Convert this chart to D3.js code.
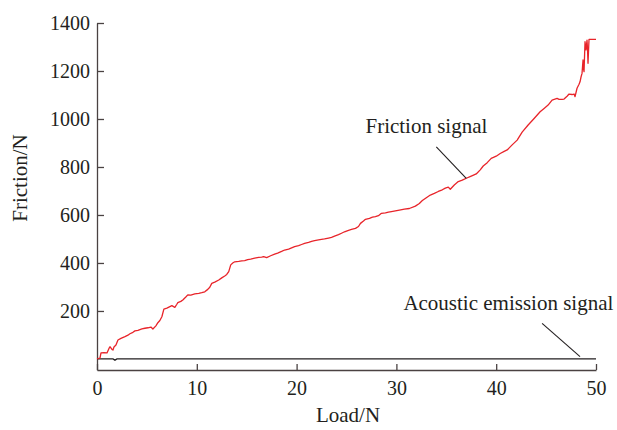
<!DOCTYPE html>
<html>
<head>
<meta charset="utf-8">
<script src="https://cdn.jsdelivr.net/npm/d3@7"></script>
<style>
  body { margin: 0; background: #fff; }
  svg text { font-family: "Liberation Serif", "Times New Roman", serif; fill: #231f20; }
  .axis path, .axis line { stroke: #4a4242; stroke-width: 1.3; }
  .axis text { font-size: 20px; font-family: "Liberation Serif", "Times New Roman", serif; }
</style>
</head>
<body>
<div id="chart"></div>
<script>
// Data
const loadN = [0, 0.3, 0.4, 0.7, 1.0, 1.2, 1.3, 1.5, 1.6, 1.7, 1.9, 2.1, 2.4, 2.8, 3.1, 3.3, 3.6, 3.8, 4.1, 4.3, 4.5, 4.8, 5.1, 5.4, 5.6, 5.9,
  6.1, 6.3, 6.5, 6.7, 7.0, 7.3, 7.5, 7.8, 8.0, 8.1, 8.4, 8.6, 8.9, 9.1, 9.4, 9.8, 10.2, 10.5, 10.8,
  11.1, 11.3, 11.5, 11.8, 12.2, 12.5, 12.8, 13.0, 13.2, 13.4, 13.6, 13.8, 14.2, 14.5, 14.8, 15.1, 15.4, 15.8, 16.2, 16.5, 16.7, 17.0,
  17.4, 17.8, 18.1, 18.5, 18.8, 19.2, 19.5, 19.8, 20.2, 20.5, 20.8, 21.2, 21.5, 21.8, 22.2, 22.5, 22.8, 23.2, 23.5, 23.8,
  24.2, 24.5, 24.8, 25.2, 25.5, 25.9, 26.2, 26.4, 26.7, 26.9, 27.3, 27.6, 27.9, 28.2, 28.5, 28.9, 29.2, 29.5, 29.9, 30.3, 30.8,
  31.3, 31.9, 32.3, 32.6, 33.0, 33.4, 33.8, 34.2, 34.6, 34.9, 35.2, 35.4, 35.8, 36.2, 36.6, 37.0, 37.5, 38.0, 38.4, 38.7, 39.1, 39.5,
  40.0, 40.4, 40.8, 41.1, 41.6, 42.1, 42.6, 43.2, 43.8, 44.4, 44.8, 45.2, 45.6, 46.1, 46.3, 46.6, 46.8, 47.1, 47.3, 47.6, 47.8, 47.9,
  48.1, 48.3, 48.4, 48.5, 48.6, 48.7, 48.75, 48.8, 48.9, 49.0, 49.1, 49.15, 49.2, 49.3, 49.4, 50.0];
const frictionN = [0, 4, 25, 26, 25, 44, 51, 40, 37, 50, 58, 79, 86, 93, 99, 105, 111, 117, 119, 122, 125, 128, 130, 133, 125, 138,
  151, 160, 176, 208, 212, 218, 222, 215, 228, 235, 240, 246, 258, 267, 266, 271, 273, 276, 280,
  290, 299, 315, 320, 329, 338, 346, 352, 364, 392, 400, 405, 407, 409, 410, 414, 416, 420, 423, 424, 426, 422,
  430, 437, 441, 448, 454, 458, 463, 468, 472, 477, 482, 486, 490, 493, 496, 498, 500, 504, 507, 512,
  518, 524, 530, 536, 540, 544, 552, 565, 575, 582, 586, 591, 593, 597, 607, 609, 612, 614, 617, 620, 624,
  627, 637, 648, 660, 672, 683, 690, 698, 705, 712, 716, 707, 725, 739, 745, 753, 762, 771, 788, 804, 818, 836,
  845, 856, 865, 871, 892, 912, 945, 975, 1002, 1030, 1044, 1058, 1079, 1086, 1082, 1082, 1083, 1095, 1104, 1102, 1104, 1093,
  1128, 1145, 1155, 1175, 1190, 1246, 1210, 1197, 1322, 1288, 1329, 1290, 1232, 1332, 1332, 1332];

const acousticLoad = [0, 1.6, 1.8, 2.0, 10, 20, 30, 40, 50];
const acousticN = [0, 0, -5, 0, 0, 0, 0, 0, 0];

const xTicks = [0, 10, 20, 30, 40, 50];
const yTicks = [200, 400, 600, 800, 1000, 1200, 1400];

const notes = [
  { text: "Friction signal", tx: 26.9, ty: 943, from: [34.0, 884], to: [37.0, 753] },
  { text: "Acoustic emission signal", tx: 30.7, ty: 204, from: [44.6, 148], to: [48.4, 10] }
];

const W = 617, H = 430;
const margin = { left: 97, top: 23, right: 21, bottom: 60 };

const svg = d3.select("#chart").append("svg")
  .attr("width", W).attr("height", H);

const x = d3.scaleLinear().domain([0, 50]).range([margin.left, W - margin.right]);
const y = d3.scaleLinear().domain([-46, 1400]).range([H - margin.bottom, margin.top]);

// Axes
svg.append("g")
  .attr("class", "axis")
  .attr("font-family", null)
  .attr("transform", "translate(0," + (H - margin.bottom) + ")")
  .call(d3.axisBottom(x).tickValues(xTicks).tickFormat(d3.format("d"))
    .tickSizeInner(-6).tickSizeOuter(0).tickPadding(11));

svg.append("g")
  .attr("class", "axis")
  .attr("transform", "translate(" + margin.left + ",0)")
  .call(d3.axisLeft(y).tickValues(yTicks).tickFormat(d3.format("d"))
    .tickSizeInner(-7).tickSizeOuter(0).tickPadding(7));

svg.selectAll(".axis").attr("font-family", null);

// Lines
const line = d3.line().x(d => x(d[0])).y(d => y(d[1]));

svg.append("path")
  .datum(d3.zip(acousticLoad, acousticN))
  .attr("fill", "none")
  .attr("stroke", "#231f20")
  .attr("stroke-width", 1.3)
  .attr("d", line);

svg.append("path")
  .datum(d3.zip(loadN, frictionN))
  .attr("fill", "none")
  .attr("stroke", "#e8242a")
  .attr("stroke-width", 1.3)
  .attr("stroke-linejoin", "round")
  .attr("d", line);

// Annotations
notes.forEach(n => {
  svg.append("line")
    .attr("x1", x(n.from[0])).attr("y1", y(n.from[1]))
    .attr("x2", x(n.to[0])).attr("y2", y(n.to[1]))
    .attr("stroke", "#231f20").attr("stroke-width", 1.1);
  svg.append("text")
    .attr("x", x(n.tx)).attr("y", y(n.ty))
    .style("font-size", "21px")
    .text(n.text);
});

// Axis titles
svg.append("text")
  .attr("transform", "translate(27,178) rotate(-90)")
  .style("text-anchor", "middle")
  .style("font-size", "21px")
  .text("Friction/N");

svg.append("text")
  .attr("x", 348).attr("y", 422)
  .style("text-anchor", "middle")
  .style("font-size", "21px")
  .text("Load/N");
</script>
</body>
</html>
